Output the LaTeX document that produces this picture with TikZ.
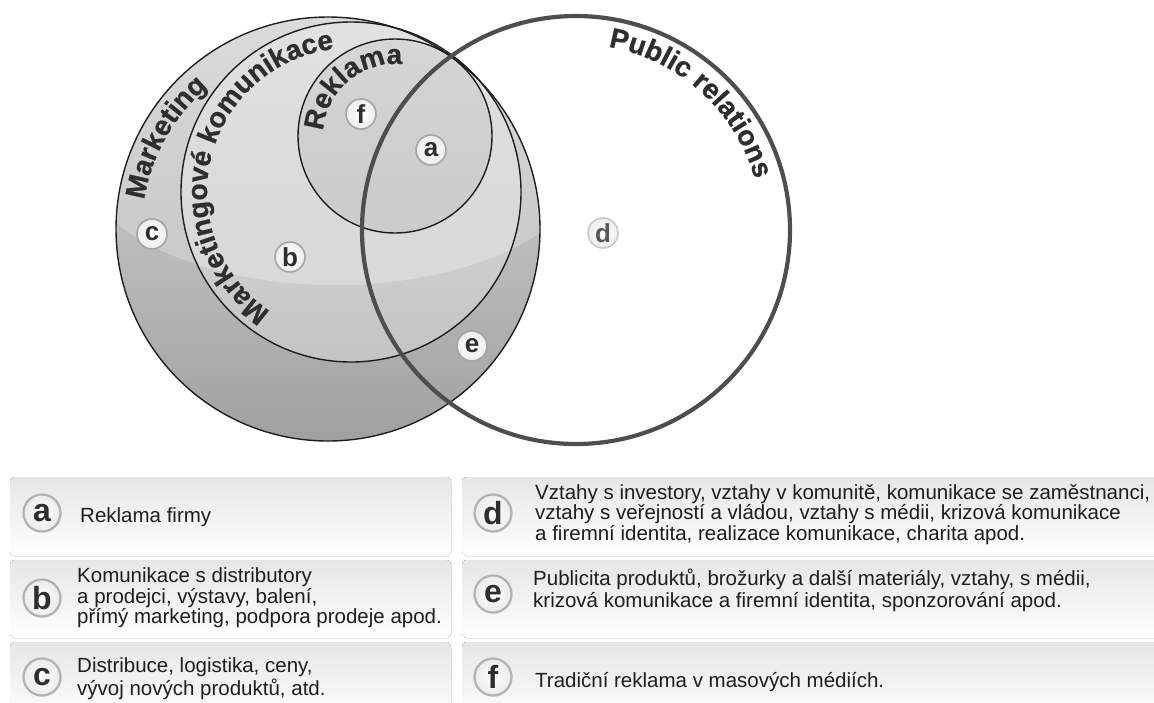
\documentclass[tikz,border=0pt]{standalone}
\usepackage{fontspec}
\setmainfont{Liberation Sans}
\newfontfamily\arcfam{Liberation Sans}[BoldFeatures={FakeBold=0.8}]
\usetikzlibrary{decorations.text,shadows,fadings}

\definecolor{ink}{HTML}{1E1E1E}
\definecolor{lbl}{HTML}{2E2E2E}
\definecolor{prline}{HTML}{4E4E4E}
\definecolor{ringc}{HTML}{A5A5A5}
\definecolor{mkTop}{HTML}{DCDCDC}
\definecolor{mkBot}{HTML}{A0A0A0}
\definecolor{mcTop}{HTML}{E2E2E2}
\definecolor{mcBot}{HTML}{C4C4C4}
\definecolor{rkTop}{HTML}{D6D6D6}
\definecolor{rkBot}{HTML}{BDBDBD}
\definecolor{boxTop}{HTML}{E6E6E6}

\tikzset{
  vennline/.style={draw=ink, line width=1.4pt},
  arclabel/.style={decorate, decoration={text along path, text align=left}},
  dotbadge/.style={circle, minimum size=30pt, inner sep=0pt, draw=ringc, line width=1.6pt,
    inner color=white, outer color=gray!14, text=lbl, font=\fontsize{26}{26}\selectfont\bfseries},
  keybadge/.style={circle, minimum size=37pt, inner sep=0pt, draw=ringc!85, line width=2.2pt,
    inner color=white, outer color=gray!16, text=lbl, font=\fontsize{32}{32}\selectfont\bfseries,
    drop shadow={shadow xshift=0.8pt, shadow yshift=-1.2pt, opacity=.2, fill=gray}},
  keybox/.style={rounded corners=4pt, top color=boxTop, bottom color=white, draw=none},
  keytext/.style={anchor=base west, inner sep=0pt, text=ink},
}

\newcommand{\arcfont}{\arcfam\fontsize{28}{30}\selectfont\bfseries}

\begin{document}
\begin{tikzpicture}[x=1pt,y=1pt]
\useasboundingbox (0,-702) rectangle (1154,0);
\clip (0,-702) rectangle (1154,0);

% ---------- Venn diagram ----------
% Marketing
\fill[top color=mkTop, bottom color=mkBot] (328,-229) circle[radius=212];
% Marketingove komunikace
\fill[top color=mcTop, bottom color=mcBot] (351,-192) circle[radius=170];
% Reklama
\fill[top color=rkTop, bottom color=rkBot] (395,-136) circle[radius=97];

% glossy reflection band
\begin{scope}
  \clip (328,-229) circle[radius=212];
  \fill[white, opacity=.28, path fading=north] (335,-150) ellipse[x radius=260, y radius=135];
\end{scope}

\draw[vennline] (328,-229) circle[radius=212];
\draw[vennline] (351,-192) circle[radius=170];
\draw[vennline] (395,-136) circle[radius=97];

% Public relations
\draw[draw=prline, line width=4.2pt] (576,-230) circle[radius=214];

% curved circle labels
\path[arclabel, decoration={text={|\arcfont\color{lbl}|Marketing}}]
  (328,-229) ++(171:186) arc[start angle=171, end angle=100, radius=186];
\path[arclabel, decoration={text={|\arcfont\color{lbl}|Marketingové komunikace}}]
  (351,-192) ++(236:144) arc[start angle=236, end angle=60, radius=144];
\path[arclabel, decoration={text={|\arcfont\color{lbl}|Reklama}}]
  (395,-136) ++(176:72) arc[start angle=176, end angle=40, radius=72];
\path[arclabel, decoration={text={|\arcfont\color{lbl}|Public relations}}]
  (576,-230) ++(80:186) arc[start angle=80, end angle=-10, radius=186];

% region markers
\node[dotbadge] (pf) at (361,-114) {f};
\node[dotbadge] (pa) at (431,-150) {a};
\node[dotbadge] (pc) at (152,-234) {c};
\node[dotbadge] (pb) at (290,-257) {b};
\node[dotbadge, draw=ringc!60, text=lbl!80] (pd) at (603,-233) {d};
\node[dotbadge] (pe) at (472,-346) {e};

% ---------- key ----------
\fill[keybox] (10,-477) rectangle (451,-556);
\fill[keybox] (10,-560) rectangle (451,-638);
\fill[keybox] (10,-642) rectangle (451,-722);
\fill[keybox] (462,-477) rectangle (1170,-556);
\fill[keybox] (462,-560) rectangle (1170,-638);
\fill[keybox] (462,-642) rectangle (1170,-722);

\node[keybadge] (ka) at (42,-513) {a};
\node[keybadge] (kb) at (42,-598) {b};
\node[keybadge] (kc) at (42,-677) {c};
\node[keybadge] (kd) at (493,-513) {d};
\node[keybadge] (ke) at (493,-594) {e};
\node[keybadge] (kf) at (493,-677) {f};

\node[keytext, font=\fontsize{20.5}{19}\selectfont] (ta) at (80,-522) {Reklama firmy};
\node[keytext, font=\fontsize{20.5}{18.8}\selectfont] (tb) at (77,-582.5)
  {\begin{tabular}[t]{@{}l@{}}Komunikace s distributory\\a prodejci, výstavy, balení,\\přímý marketing, podpora prodeje apod.\end{tabular}};
\node[keytext, font=\fontsize{20.5}{22.5}\selectfont] (tc) at (77,-672.5)
  {\begin{tabular}[t]{@{}l@{}}Distribuce, logistika, ceny,\\vývoj nových produktů, atd.\end{tabular}};
\node[keytext, font=\fontsize{20.5}{19}\selectfont] (td) at (535,-499)
  {\begin{tabular}[t]{@{}l@{}}Vztahy s investory, vztahy v komunitě, komunikace se zaměstnanci,\\vztahy s veřejností a vládou, vztahy s médii, krizová komunikace\\a firemní identita, realizace komunikace, charita apod.\end{tabular}};
\node[keytext, font=\fontsize{20.5}{22.5}\selectfont] (te) at (533,-585)
  {\begin{tabular}[t]{@{}l@{}}Publicita produktů, brožurky a další materiály, vztahy, s médii,\\krizová komunikace a firemní identita, sponzorování apod.\end{tabular}};
\node[keytext, font=\fontsize{20.5}{19}\selectfont] (tf) at (535,-687) {Tradiční reklama v masových médiích.};

\end{tikzpicture}
\end{document}
